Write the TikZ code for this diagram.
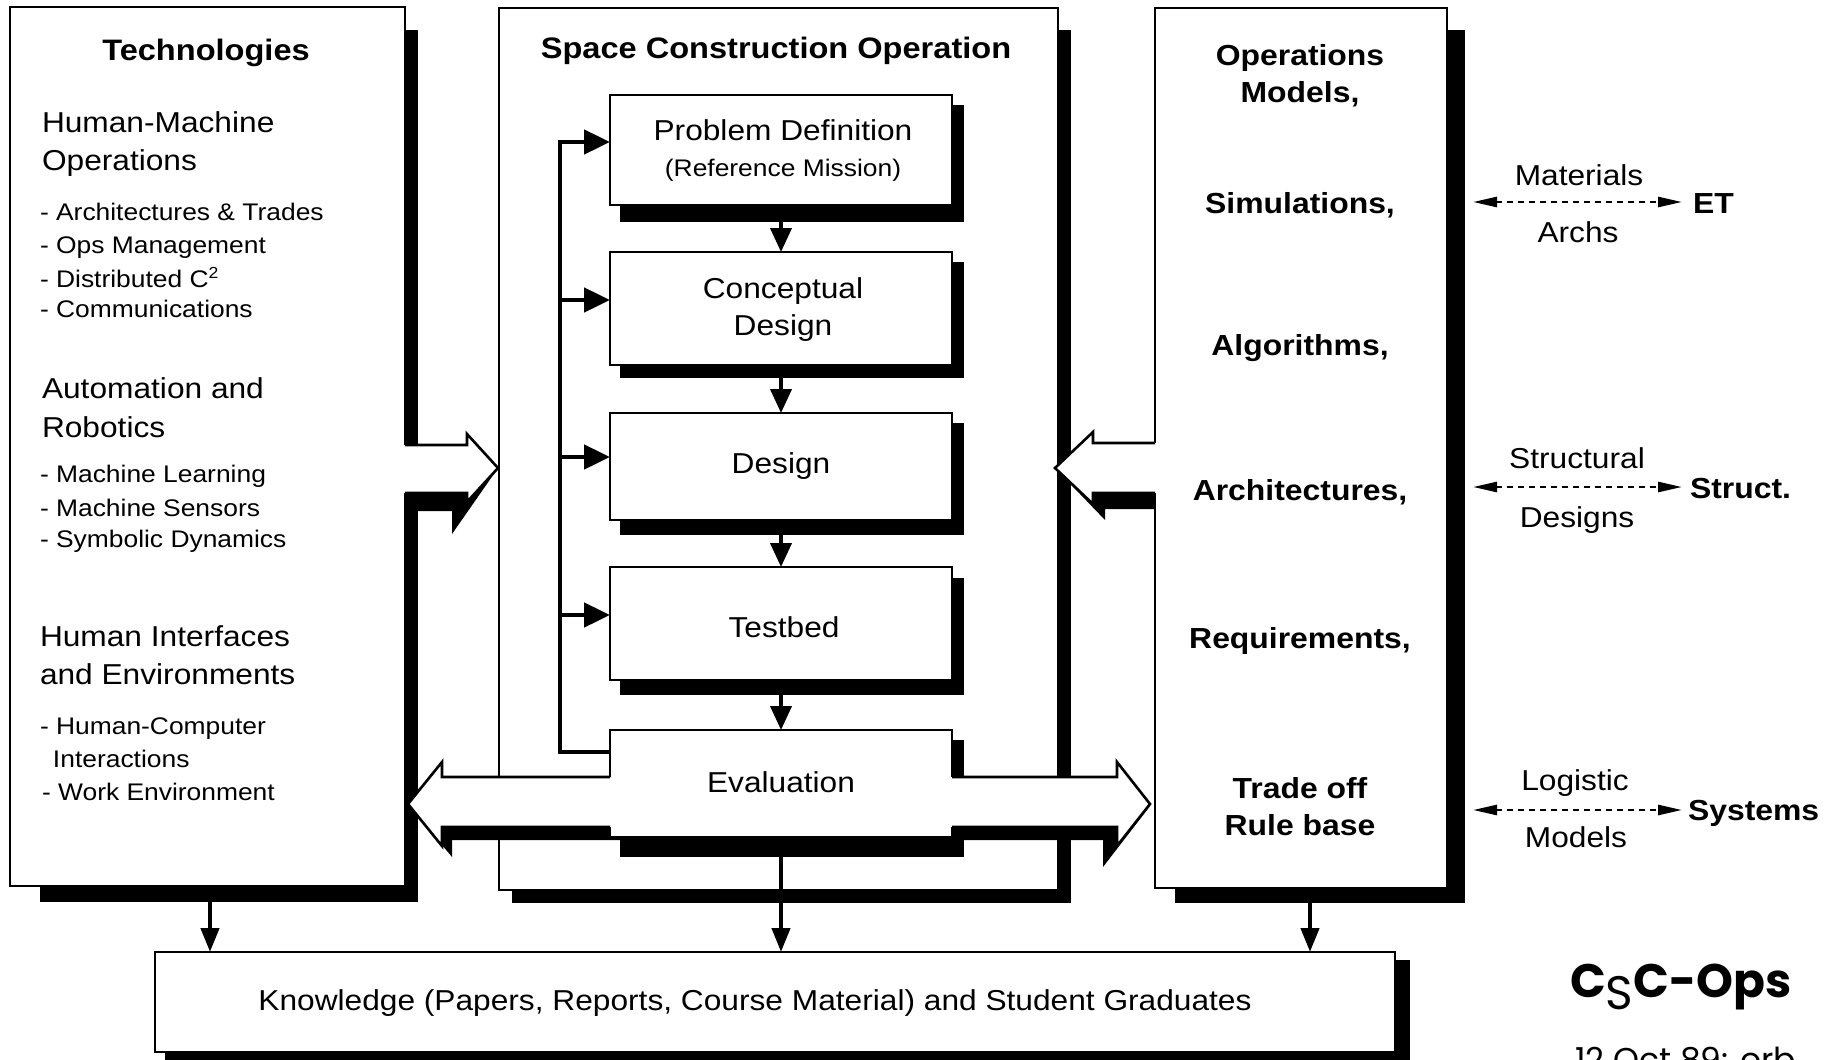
\documentclass[tikz,border=0pt]{standalone}
\usepackage{fontspec}
\setmainfont{Liberation Sans}[FakeStretch=1.1]
\newfontfamily\popfont{Poppins}
\usetikzlibrary{arrows.meta,calc}
\newcommand\fBig{\fontsize{14.4pt}{18pt}\selectfont}
\newcommand\fSm{\fontsize{12pt}{15pt}\selectfont}
\newcommand\fHd{\fontsize{14.8pt}{18pt}\selectfont\bfseries}
\newcommand\fBd{\fontsize{14.5pt}{18pt}\selectfont\bfseries}
\begin{document}
\begin{tikzpicture}[x=0.5pt,y=-0.5pt,
  box/.style={draw,fill=white,line width=1.3pt,rectangle,inner sep=0pt,outer sep=0pt},
  txt/.style={inner sep=0pt,outer sep=0pt},
  big/.style={txt,font=\fBig},
  sm/.style={txt,font=\fSm},
  bd/.style={txt,font=\fBd},
  hd/.style={txt,font=\fHd},
  conn/.style={line width=2pt,-{Triangle[length=12pt,width=10.5pt]}},
  fbarr/.style={line width=2.4pt,-{Triangle[length=13pt,width=12pt]}},
  downarr/.style={line width=2.2pt,-{Triangle[length=12pt,width=9pt]}},
  dotarr/.style={line width=1.3pt,dash pattern=on 3pt off 2.5pt,{Triangle[length=12pt,width=5pt]}-{Triangle[length=12pt,width=5pt]}},
  outl/.style={line width=1.3pt,line join=miter},
]
\useasboundingbox (0,0) rectangle (1843,1060);
\clip (0,0) rectangle (1843,1060);
\fill[white] (0,0) rectangle (1843,1060);

% outer shadows
\fill (40,30) rectangle (418,902);
\fill (512,30) rectangle (1071,903);
\fill (1175,30) rectangle (1465,903);
% outer boxes
\node[box,minimum width=197.5pt,minimum height=439.5pt] (L) at (207.5,446.5) {};
\node[box,minimum width=279.5pt,minimum height=441pt] (C) at (778.5,449) {};
\node[box,minimum width=146pt,minimum height=440pt] (R) at (1301,448) {};

% inner shadows
\fill (620,105) rectangle (964,222);
\fill (620,262) rectangle (964,378);
\fill (620,423) rectangle (964,535);
\fill (620,578) rectangle (964,695);
% inner boxes
\node[box,minimum width=171pt,minimum height=55pt] (pd) at (781,150) {};
\node[box,minimum width=171pt,minimum height=56.5pt] (cd) at (781,308.5) {};
\node[box,minimum width=171pt,minimum height=53.5pt] (de) at (781,466.5) {};
\node[box,minimum width=171pt,minimum height=56.5pt] (tb) at (781,623.5) {};

\draw[conn] (pd.south) -- (cd.north);
\draw[conn] (cd.south) -- (de.north);
\draw[conn] (de.south) -- (tb.north);

% feedback loop
\coordinate (evL) at (610,752);
\coordinate (fbB) at (560,752);
\coordinate (fbT) at (560,142);
\coordinate (fb2) at (560,300);
\coordinate (fb3) at (560,457);
\coordinate (fb4) at (560,615);
\draw[fbarr,line join=miter] (evL) -- (fbB) -- (fbT) -- (pd.west |- fbT);
\draw[fbarr] (fb2) -- (cd.west |- fb2);
\draw[fbarr] (fb3) -- (de.west |- fb3);
\draw[fbarr] (fb4) -- (tb.west |- fb4);

% left fat arrow
\fill (405,490) -- (498,468) -- (452,534) -- (452,511) -- (405,511) -- cycle;
\fill[white] (398,445) -- (467,445) -- (467,434) -- (498,468) -- (467,502) -- (467,493) -- (398,493) -- cycle;
\draw[outl] (405,445) -- (467,445) -- (467,434) -- (498,468) -- (467,502) -- (467,493) -- (405,493);

% right fat arrow
\fill (1155,490) -- (1055,468) -- (1105,520) -- (1105,509) -- (1155,509) -- cycle;
\fill[white] (1162,443) -- (1093,443) -- (1093,432) -- (1055,468) -- (1093,504) -- (1093,493) -- (1162,493) -- cycle;
\draw[outl] (1155,443) -- (1093,443) -- (1093,432) -- (1055,468) -- (1093,504) -- (1093,493) -- (1155,493);

% evaluation + double arrow
\fill (620,740) rectangle (964,857);
\fill (408,804) -- (452,857) -- (452,840) -- (1103,840) -- (1103,867) -- (1150,806) -- cycle;
\node[box,minimum width=171pt,minimum height=53.5pt] (ev) at (781,783.5) {};
\fill[white] (408,804) -- (442,762) -- (442,777) -- (614,777) -- (614,827) -- (442,827) -- (442,846) -- cycle;
\fill[white] (946,777) -- (1117,777) -- (1117,762) -- (1150,804) -- (1117,846) -- (1117,827) -- (946,827) -- cycle;
\draw[outl] (610,777) -- (442,777) -- (442,762) -- (408,804) -- (442,846) -- (442,827) -- (610,827);
\draw[outl] (952,777) -- (1117,777) -- (1117,762) -- (1150,804) -- (1117,846) -- (1117,827) -- (952,827);
\draw[conn] (tb.south) -- (ev.north);

% knowledge box
\fill (165,960) rectangle (1410,1075);
\node[box,minimum width=620pt,minimum height=50pt] (K) at (775,1002) {};
\coordinate (kL) at (210,0);
\coordinate (kR) at (1310,0);
\draw[downarr] (L.south -| kL) -- (K.north -| kL);
\draw[downarr] (ev.south) -- (K.north -| ev.south);
\draw[downarr] (R.south -| kR) -- (K.north -| kR);

% left column text
\node[hd,anchor=base] (tTech) at (206,61) {Technologies};
\node[big,anchor=base west] (t1) at (42,132) {Human-Machine};
\node[big,anchor=base west] (t2) at (42,170) {Operations};
\node[sm,anchor=base west] (t3) at (40,220) {- Architectures \& Trades};
\node[sm,anchor=base west] (t4) at (40,253) {- Ops Management};
\node[sm,anchor=base west] (t5) at (40,287) {- Distributed C\textsuperscript{2}};
\node[sm,anchor=base west] (t6) at (40,317) {- Communications};
\node[big,anchor=base west] (t7) at (42,398) {Automation and};
\node[big,anchor=base west] (t8) at (42,437) {Robotics};
\node[sm,anchor=base west] (t9) at (40,482) {- Machine Learning};
\node[sm,anchor=base west] (t10) at (40,516) {- Machine Sensors};
\node[sm,anchor=base west] (t11) at (40,547) {- Symbolic Dynamics};
\node[big,anchor=base west] (t12) at (40,646) {Human Interfaces};
\node[big,anchor=base west] (t13) at (40,684) {and Environments};
\node[sm,anchor=base west] (t14) at (40,734) {- Human-Computer};
\node[sm,anchor=base west] (t15) at (53,767) {Interactions};
\node[sm,anchor=base west] (t16) at (42,800) {- Work Environment};

% central text
\node[hd,anchor=base] (tSCO) at (776,58) {Space Construction Operation};
\node[big,anchor=base] (tPD1) at (783,140) {Problem Definition};
\node[sm,anchor=base] (tPD2) at (783,176) {(Reference Mission)};
\node[big,anchor=base] (tCD1) at (783,298) {Conceptual};
\node[big,anchor=base] (tCD2) at (783,335) {Design};
\node[big,anchor=base] (tDe) at (781,473) {Design};
\node[big,anchor=base] (tTb) at (784,637) {Testbed};
\node[big,anchor=base] (tEv) at (781,792) {Evaluation};

% right column text
\node[bd,anchor=base] (r1) at (1300,65) {Operations};
\node[bd,anchor=base] (r2) at (1300,102) {Models,};
\node[bd,anchor=base] (r3) at (1300,213) {Simulations,};
\node[bd,anchor=base] (r4) at (1300,355) {Algorithms,};
\node[bd,anchor=base] (r5) at (1300,500) {Architectures,};
\node[bd,anchor=base] (r6) at (1300,648) {Requirements,};
\node[bd,anchor=base] (r7) at (1300,798) {Trade off};
\node[bd,anchor=base] (r8) at (1300,835) {Rule base};

% outside labels
\node[big,anchor=base] (m1) at (1579,185) {Materials};
\node[big,anchor=base] (m2) at (1578,242) {Archs};
\node[bd,anchor=base west] (ET) at (1693,213) {ET};
\node[big,anchor=base] (s1) at (1577,468) {Structural};
\node[big,anchor=base] (s2) at (1577,527) {Designs};
\node[bd,anchor=base west] (ST) at (1690,498) {Struct.};
\node[big,anchor=base] (l1) at (1575,790) {Logistic};
\node[big,anchor=base] (l2) at (1576,847) {Models};
\node[bd,anchor=base west] (SY) at (1688,820) {Systems};
\coordinate (a1) at (1473,202);
\coordinate (a2) at (1473,487);
\coordinate (a3) at (1473,810);
\draw[dotarr,shorten >=5.5pt] (a1) -- (ET.west |- a1);
\draw[dotarr,shorten >=4pt] (a2) -- (ST.west |- a2);
\draw[dotarr,shorten >=3pt] (a3) -- (SY.west |- a3);

% knowledge text
\node[big,anchor=base] (tK) at (755,1010) {Knowledge (Papers, Reports, Course Material) and Student Graduates};

% logo
\node[txt,anchor=base west,font=\popfont\bfseries\fontsize{23.5pt}{28pt}\selectfont] (csc) at (1570,997) {C\raisebox{-6pt}{\mdseries S}C-Ops};
\node[txt,anchor=base west,font=\popfont\fontsize{16.5pt}{20pt}\selectfont] (date) at (1575,1071) {12 Oct 89: orb};
\end{tikzpicture}
\end{document}
